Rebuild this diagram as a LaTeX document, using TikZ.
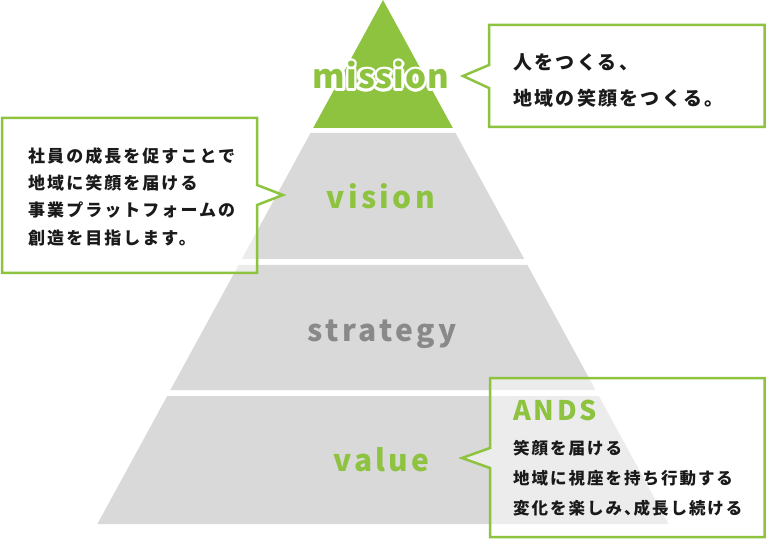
\documentclass[tikz,border=0pt]{standalone}
\usepackage{fontspec}
\newfontfamily\lblfont[LetterSpace=11]{Noto Sans CJK JP}
\newfontfamily\misfont[LetterSpace=3]{Noto Sans CJK JP}
\newfontfamily\jpfont[LetterSpace=12]{Noto Sans CJK JP}
\newfontfamily\andsfont[LetterSpace=10]{Noto Sans CJK JP}
\definecolor{brandgreen}{HTML}{8DC33F}
\definecolor{tiergray}{HTML}{D9D9D9}
\definecolor{labelgray}{HTML}{898989}
\definecolor{textblack}{HTML}{1A1A1A}
\tikzset{
  tier/.style={fill=tiergray},
  callout/.style={draw=brandgreen, line width=2.5pt, fill=white, fill opacity=0.5, line join=miter},
  tierlabel/.style={anchor=base, inner sep=0pt, font=\lblfont\bfseries\fontsize{30}{36}\selectfont},
  misstyle/.style={anchor=base, inner sep=0pt, font=\misfont\bfseries\fontsize{33}{40}\selectfont},
  jpline/.style={anchor=base west, inner sep=0pt, text=textblack},
}
\begin{document}
\begin{tikzpicture}[x=1pt,y=-1pt]
\useasboundingbox (0,0) rectangle (766,540);
% pyramid tiers
\fill[brandgreen] (383,0) -- (452.8,128) -- (313.2,128) -- cycle;
\fill[tier] (310.5,133) -- (455.5,133) -- (524.2,259) -- (241.8,259) -- cycle;
\fill[tier] (238.6,265) -- (527.4,265) -- (595.6,390) -- (170.4,390) -- cycle;
\fill[tier] (167.2,396) -- (598.8,396) -- (668.6,524) -- (97.4,524) -- cycle;
% callout tips
\coordinate (mtip) at (463,76);
\coordinate (vtip) at (283,195);
\coordinate (valtip) at (462,458);
% callouts
\draw[callout] (489,25) -- (764.5,25) -- (764.5,127) -- (489,127) -- (489,88) -- (mtip) -- (489,65) -- cycle;
\draw[callout] (2,118) -- (257,118) -- (257,185) -- (vtip) -- (257,205) -- (257,273) -- (2,273) -- cycle;
\draw[callout] (490,378) -- (764.5,378) -- (764.5,537) -- (490,537) -- (490,468) -- (valtip) -- (490,448) -- cycle;
% mission label with white outline
\foreach \a in {0,30,...,330}
  \node[misstyle, text=white] at ([shift={(\a:2.4)}]381,89) {mission};
\node[misstyle, text=brandgreen] (mission) at (381,89) {mission};
\node[tierlabel, text=brandgreen] (vision) at (381,209) {vision};
\node[tierlabel, text=labelgray] (strategy) at (382,341) {strategy};
\node[tierlabel, text=brandgreen] (value) at (381.5,471) {value};
% mission text
\begin{scope}[every node/.append style={font=\jpfont\bfseries\fontsize{19}{24}\selectfont}]
\node[jpline] (m1) at (513,70) {人をつくる、};
\node[jpline] (m2) at (513,106) {地域の笑顔をつくる。};
\end{scope}
% vision text
\begin{scope}[every node/.append style={font=\jpfont\bfseries\fontsize{17}{22}\selectfont}]
\node[jpline] (v1) at (28,163) {社員の成長を促すことで};
\node[jpline] (v2) at (28,190) {地域に笑顔を届ける};
\node[jpline] (v3) at (28,217) {事業プラットフォームの};
\node[jpline] (v4) at (28,244) {創造を目指します。};
\end{scope}
% value text
\node[anchor=base west, inner sep=0pt, text=brandgreen, font=\andsfont\bfseries\fontsize{27}{32}\selectfont] (ands) at (513,420) {ANDS};
\begin{scope}[every node/.append style={font=\jpfont\bfseries\fontsize{16.5}{20}\selectfont}]
\node[jpline] (a1) at (513,454) {笑顔を届ける};
\node[jpline] (a2) at (513,484) {地域に視座を持ち行動する};
\node[jpline] (a3) at (513,514) {変化を楽しみ、\kern-7pt 成長し続ける};
\end{scope}
\end{tikzpicture}
\end{document}
